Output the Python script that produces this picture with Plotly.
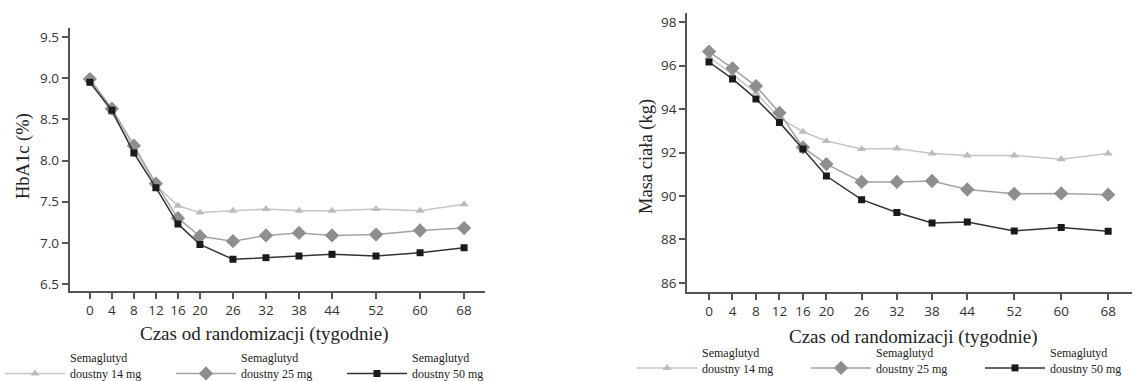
import plotly.graph_objects as go

# ---------------- data ----------------
weeks = [0, 4, 8, 12, 16, 20, 26, 32, 38, 44, 52, 60, 68]
series_names = ["Semaglutyd<br>doustny 14 mg", "Semaglutyd<br>doustny 25 mg", "Semaglutyd<br>doustny 50 mg"]

hba1c_14 = [8.97, 8.58, 8.14, 7.70, 7.45, 7.37, 7.39, 7.41, 7.39, 7.39, 7.41, 7.39, 7.47]
hba1c_25 = [8.99, 8.63, 8.18, 7.72, 7.30, 7.08, 7.02, 7.09, 7.12, 7.09, 7.10, 7.15, 7.18]
hba1c_50 = [8.95, 8.61, 8.09, 7.67, 7.23, 6.98, 6.80, 6.82, 6.84, 6.86, 6.84, 6.88, 6.94]

mass_14 = [96.40, 95.60, 94.75, 93.60, 92.96, 92.53, 92.16, 92.19, 91.96, 91.87, 91.87, 91.69, 91.96]
mass_25 = [96.65, 95.88, 95.06, 93.83, 92.24, 91.47, 90.65, 90.65, 90.69, 90.30, 90.10, 90.12, 90.06]
mass_50 = [96.17, 95.39, 94.47, 93.39, 92.16, 90.92, 89.83, 89.24, 88.76, 88.80, 88.39, 88.55, 88.38]

hba1c_ticks = [6.5, 7.0, 7.5, 8.0, 8.5, 9.0, 9.5]
mass_ticks = [86, 88, 90, 92, 94, 96, 98]

x_title = "Czas od randomizacji (tygodnie)"
y_title_left = "HbA1c (%)"
y_title_right = "Masa ciała (kg)"

# ---------------- styles ----------------
W, H = 1135, 381
styles = [
    dict(line=dict(color="#c6c6c6", width=1.5), marker=dict(symbol="triangle-up", size=8, color="#bcbcbc")),
    dict(line=dict(color="#a3a3a3", width=1.5), marker=dict(symbol="diamond", size=11, color="#8e8e8e")),
    dict(line=dict(color="#333333", width=1.5), marker=dict(symbol="square", size=7, color="#1a1a1a")),
]

def dom_x(a, b):
    return [a / W, b / W]

def dom_y(top, bottom):
    return [1 - bottom / H, 1 - top / H]

fig = go.Figure()

for vals, name, st in zip([hba1c_14, hba1c_25, hba1c_50], series_names, styles):
    fig.add_trace(go.Scatter(x=weeks, y=vals, name=name, mode="lines+markers",
                             xaxis="x", yaxis="y", legend="legend", **st))
for vals, name, st in zip([mass_14, mass_25, mass_50], series_names, styles):
    fig.add_trace(go.Scatter(x=weeks, y=vals, name=name, mode="lines+markers",
                             xaxis="x2", yaxis="y2", legend="legend2", **st))

tick_font = dict(family="Open Sans", size=13.5, color="#333333")
axis_common = dict(showline=True, linecolor="#555555", linewidth=1.5, ticks="outside",
                   ticklen=6, tickwidth=1.5, tickcolor="#555555", showgrid=False,
                   zeroline=False, tickfont=tick_font, fixedrange=True, automargin=False)

legend_common = dict(orientation="h", xanchor="left", yanchor="top",
                     font=dict(family="Liberation Serif", size=12, color="#222222"),
                     itemwidth=60, entrywidthmode="pixels", valign="bottom",
                     bgcolor="rgba(0,0,0,0)", borderwidth=0, tracegroupgap=0)

fig.update_layout(
    width=W, height=H,
    margin=dict(l=0, r=0, t=0, b=0, autoexpand=False),
    paper_bgcolor="white", plot_bgcolor="white",
    xaxis=dict(domain=dom_x(69.5, 485), range=[-3.7, 71.8], tickvals=weeks, anchor="y", **axis_common),
    yaxis=dict(domain=dom_y(28, 291), range=[6.415, 9.61], tickvals=hba1c_ticks,
               ticktext=[f"{v:.1f}" for v in hba1c_ticks], anchor="x", **axis_common),
    xaxis2=dict(domain=dom_x(687, 1132), range=[-3.75, 72.06], tickvals=weeks, anchor="y2", **axis_common),
    yaxis2=dict(domain=dom_y(12.7, 292), range=[85.58, 98.44], tickvals=mass_ticks, anchor="x2", **axis_common),
    legend=dict(x=0 / W, y=1 - 343.5 / H, entrywidth=96, **legend_common),
    legend2=dict(x=632 / W, y=1 - 338 / H, entrywidth=99, **legend_common),
    showlegend=True,
)

title_font = dict(family="Liberation Serif", size=19, color="#222222")
ytitle_font = dict(family="Liberation Serif", size=18.5, color="#222222")
annos = [
    dict(text=x_title, x=264 / W, y=1 - 334 / H, font=title_font, textangle=0),
    dict(text=x_title, x=913 / W, y=1 - 337 / H, font=title_font, textangle=0),
    dict(text=y_title_left, x=24 / W, y=1 - 156 / H, font=ytitle_font, textangle=-90),
    dict(text=y_title_right, x=647 / W, y=1 - 156 / H, font=ytitle_font, textangle=-90),
]
for a in annos:
    fig.add_annotation(xref="paper", yref="paper", xanchor="center", yanchor="middle",
                       showarrow=False, **a)

fig.write_html("out.html", config={"displayModeBar": False},
               post_script="document.body.style.margin='0';document.body.style.overflow='hidden';")
